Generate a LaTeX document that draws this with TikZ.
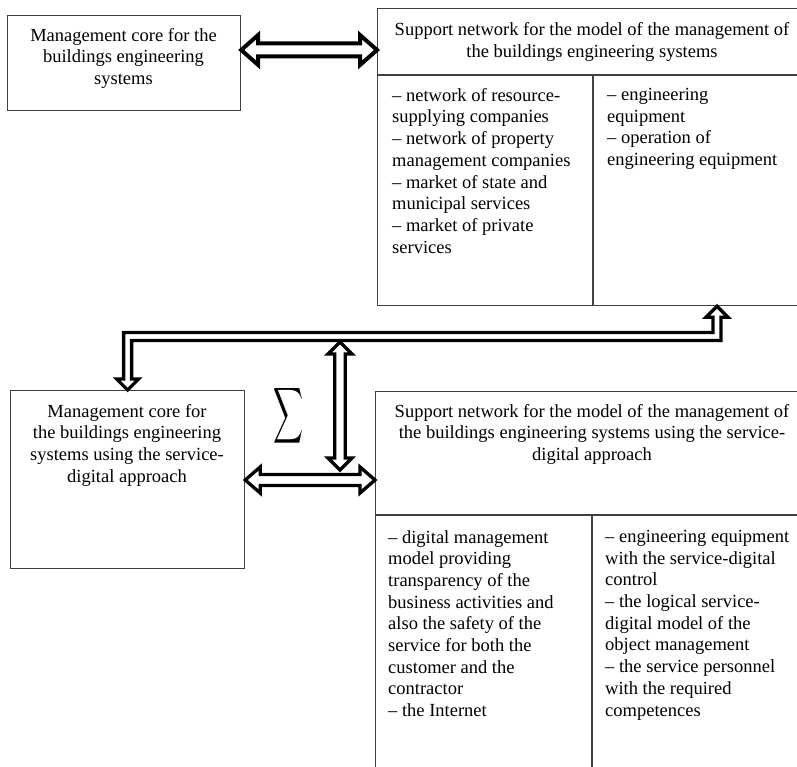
\documentclass[tikz,border=0pt]{standalone}
\usepackage{fontspec}
\setmainfont{Liberation Serif}
\usetikzlibrary{calc}
\newcommand\bodyfont{\fontsize{18.5}{21.7}\selectfont}
\newcommand\dblharrow[6][]{%
  \draw[blockarrow,#1] (#2) -- ++(#6,-#5) -- ++(0,#5-#4) -- ($(#3)+(-#6,-#4)$) -- ++(0,#4-#5) -- (#3)
    -- ++(-#6,#5) -- ++(0,#4-#5) -- ($(#2)+(#6,#4)$) -- ++(0,#5-#4) -- cycle;}
\newcommand\dblvarrow[6][]{%
  \draw[blockarrow,#1] (#2) -- ++(-#5,#6) -- ++(#5-#4,0) -- ($(#3)+(-#4,-#6)$) -- ++(#4-#5,0) -- (#3)
    -- ++(#5,-#6) -- ++(#4-#5,0) -- ($(#2)+(#4,#6)$) -- ++(#5-#4,0) -- cycle;}
\begin{document}
\begin{tikzpicture}[x=1pt,y=-1pt,
  box/.style={draw=black!75, line width=1.2pt, anchor=north west, inner sep=0pt},
  boxline/.style={draw=black!75, line width=1.2pt},
  ctxt/.style={font=\bodyfont, align=center, inner sep=0pt, anchor=north},
  ltxt/.style={font=\bodyfont, align=left, inner sep=0pt, anchor=north west},
  blockarrow/.style={draw=black, fill=white, line width=3.3pt, line join=miter}]
\clip (0,0) rectangle (797,767);
\fill[white] (0,0) rectangle (797,767);
% boxes
\node[box, minimum width=233pt, minimum height=95pt] (core1) at (7,15) {};
\node[box, minimum width=440pt, minimum height=297pt] (net1) at (377,8) {};
\node[box, minimum width=234pt, minimum height=178pt] (core2) at (10,390) {};
\node[box, minimum width=440pt, minimum height=420pt] (net2) at (375,391) {};
\draw[boxline] ($(net1.north west)+(0,67)$) -- ($(net1.north east)+(0,67)$);
\draw[boxline] ($(net1.north west)+(216,67)$) -- ($(net1.south west)+(216,0)$);
\draw[boxline] ($(net2.north west)+(0,124)$) -- ($(net2.north east)+(0,124)$);
\draw[boxline] ($(net2.north west)+(217,124)$) -- ($(net2.south west)+(217,0)$);
% texts
\node[ctxt] (t1) at (123.5,28) {Management core for the\\buildings engineering\\systems};
\node[ctxt] (t2) at (592,22.5) {Support network for the model of the management of\\the buildings engineering systems};
\node[ltxt] (t3) at (392,88) {– network of resource-\\supplying companies\\– network of property\\management companies\\– market of state and\\municipal services\\– market of private\\services};
\node[ltxt] (t4) at (607,88) {– engineering\\equipment\\– operation of\\engineering equipment};
\node[ctxt] (t5) at (127,404) {Management core for\\the buildings engineering\\systems using the service-\\digital approach};
\node[ctxt] (t6) at (592,404) {Support network for the model of the management of\\the buildings engineering systems using the service-\\digital approach};
\node[ltxt] (t7) at (388,530) {– digital management\\model providing\\transparency of the\\business activities and\\also the safety of the\\service for both the\\customer and the\\contractor\\– the Internet};
\node[ltxt] (t8) at (605,530) {– engineering equipment\\with the service-digital\\control\\– the logical service-\\digital model of the\\object management\\– the service personnel\\with the required\\competences};
\node[inner sep=0pt] (sig) at (288,416) {\resizebox{30pt}{41pt}{$\displaystyle\sum$}};
% connectors
\coordinate (a1) at (0,50);
\dblharrow[line width=4pt]{core1.east |- a1}{net1.west |- a1}{6.5}{15}{17}
\coordinate (hb) at (0,336.5);
\coordinate (tipR) at ($(net1.south west)+(340,0)$);
\draw[blockarrow] ($(core2.north |- hb)+(-4,-4)$) -- ($(tipR |- hb)+(-4,-4)$) -- ($(tipR)+(-4,11)$)
  -- ($(tipR)+(-11,11)$) -- (tipR) -- ($(tipR)+(11,11)$) -- ($(tipR)+(4,11)$) -- ($(tipR |- hb)+(4,4)$)
  -- ($(core2.north |- hb)+(4,4)$) -- ($(core2.north)+(4,-11)$) -- ($(core2.north)+(11,-11)$)
  -- (core2.north) -- ($(core2.north)+(-11,-11)$) -- ($(core2.north)+(-4,-11)$) -- cycle;
\coordinate (vt) at (340,342);
\coordinate (vb) at (340,470);
\dblvarrow{vt}{vb}{5.2}{12}{12}
\coordinate (a2) at (0,480);
\dblharrow{core2.east |- a2}{net2.west |- a2}{5.5}{13}{15}
\end{tikzpicture}
\end{document}
